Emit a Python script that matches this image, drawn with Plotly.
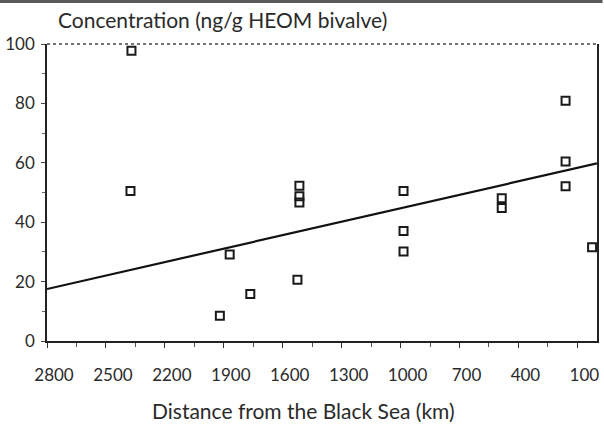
import plotly.graph_objects as go

# Data
distance_km = [2370, 2375, 1515, 1515, 1515, 1525, 1870, 1765, 1920,
               160, 160, 160, 985, 985, 985, 485, 485, 25]
concentration = [97.7, 50.5, 52.3, 48.7, 46.6, 20.6, 29.1, 15.8, 8.5,
                 80.9, 60.4, 52.1, 50.5, 37.0, 30.1, 48.1, 44.8, 31.6]

trend_km = [2800, 0]
trend_conc = [17.5, 59.8]

x_ticks = [2800, 2500, 2200, 1900, 1600, 1300, 1000, 700, 400, 100]
x_ticktext = [str(v) for v in x_ticks]
y_ticks = [0, 20, 40, 60, 80, 100]

FONT = "Lato, 'Open Sans', sans-serif"
INK = "#2a2a2a"

fig = go.Figure()
fig.add_trace(go.Scatter(
    x=trend_km, y=trend_conc, mode="lines",
    line=dict(color="#111111", width=2.2), showlegend=False, hoverinfo="skip"))
fig.add_trace(go.Scatter(
    x=distance_km, y=concentration, mode="markers",
    marker=dict(symbol="square-open", size=8, color="#1a1a1a",
                line=dict(color="#1a1a1a", width=2)),
    showlegend=False))

fig.update_layout(
    width=604, height=432,
    margin=dict(l=45, r=5, t=44, b=91),
    paper_bgcolor="white", plot_bgcolor="white",
    font=dict(family=FONT, color=INK, size=17),
    xaxis=dict(
        range=[2800, 0], tickmode="array", tickvals=x_ticks, ticktext=x_ticktext,
        showgrid=False, zeroline=False, showline=True, linecolor="#222", linewidth=1.6,
        ticks="outside", ticklen=5, tickwidth=1.2, tickcolor="#333",
        minor=dict(dtick=150, tick0=100, ticks="outside", ticklen=4, tickcolor="#555", tickwidth=1),
        tickfont=dict(size=17, family=FONT, color=INK),
        ticklabelstandoff=13, ticklabelshift=-7,
    ),
    yaxis=dict(
        range=[0, 100], tickmode="array", tickvals=y_ticks,
        showgrid=False, zeroline=False, showline=True, linecolor="#222", linewidth=1.6,
        mirror=True,
        ticks="outside", ticklen=4, tickwidth=1.2, tickcolor="#444",
        minor=dict(dtick=10, ticks="outside", ticklen=3, tickcolor="#666", tickwidth=1),
        tickfont=dict(size=17, family=FONT, color=INK),
        ticklabelstandoff=3,
    ),
    shapes=[
        dict(type="line", xref="paper", yref="paper", x0=0, x1=1, y0=1, y1=1,
             line=dict(color="#444", width=1.4, dash="dot")),
        dict(type="rect", xref="paper", yref="paper", x0=-0.09, x1=1.01, y0=1.138, y1=1.16,
             line=dict(width=0), fillcolor="#5a5a5a"),
    ],
    annotations=[
        dict(text="Concentration (ng/g HEOM bivalve)", xref="paper", yref="paper",
             x=0.016, y=1.0, xanchor="left", yanchor="bottom", yshift=10, showarrow=False,
             font=dict(size=21, family=FONT, color=INK)),
        dict(text="Distance from the Black Sea (km)", xref="paper", yref="paper",
             x=(303 - 45) / 554, y=0, xanchor="center", yanchor="middle", yshift=-69,
             showarrow=False, font=dict(size=21, family=FONT, color=INK)),
    ],
)

fig.write_html("out.html")
